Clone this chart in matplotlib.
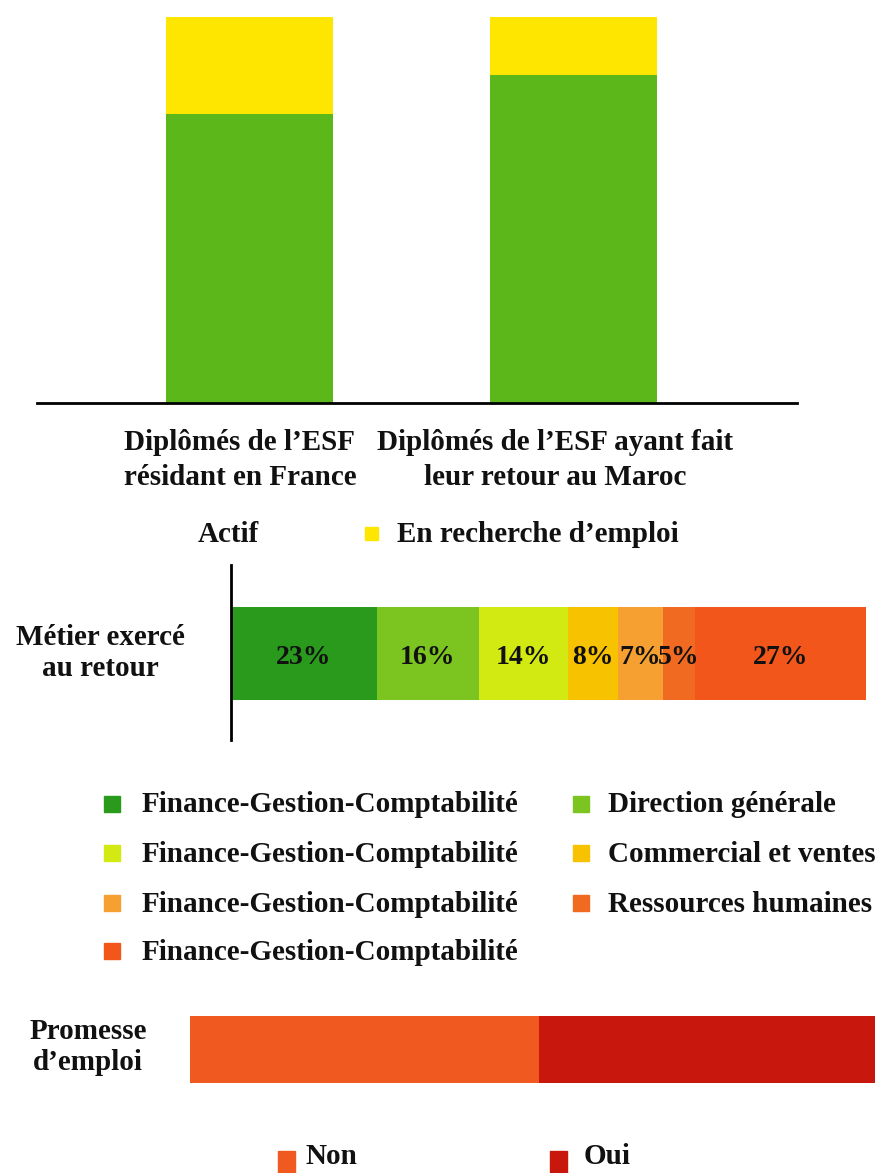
import matplotlib
matplotlib.use("Agg")
import matplotlib.pyplot as plt
from matplotlib.patches import Rectangle

plt.rcParams['font.family'] = ['Liberation Serif', 'DejaVu Serif']
plt.rcParams['font.weight'] = 'bold'

# ---- data ----
groups = ["Diplômés de l’ESF\nrésidant en France",
          "Diplômés de l’ESF ayant fait\nleur retour au Maroc"]
actif = [75, 85]
recherche = [25, 15]
status_labels = ["Actif", "En recherche d’emploi"]

metier_values = [23, 16, 14, 8, 7, 5, 27]
metier_labels = ["Finance-Gestion-Comptabilité", "Direction générale",
                 "Finance-Gestion-Comptabilité", "Commercial et ventes",
                 "Finance-Gestion-Comptabilité", "Ressources humaines",
                 "Finance-Gestion-Comptabilité"]
metier_pct_text = ["23%", "16%", "14%", "8%", "7%", "5%", "27%"]
metier_row_label = "Métier exercé\nau retour"

promesse_values = [51, 49]
promesse_labels = ["Non", "Oui"]
promesse_row_label = "Promesse\nd’emploi"

# ---- styles ----
W, H = 875, 1173
c_actif = "#5cb81a"
c_rech = "#ffe600"
metier_colors = ["#2a9a1c", "#7cc520", "#d2ea12", "#f7c200",
                 "#f5a030", "#f06a22", "#f2561a"]
promesse_colors = ["#f05a20", "#c8180e"]
FS = 21

fig = plt.figure(figsize=(W / 100, H / 100), dpi=100)
fig.patch.set_facecolor("white")


def px_axes(x0, y0, x1, y1):
    return fig.add_axes([x0 / W, 1 - y1 / H, (x1 - x0) / W, (y1 - y0) / H])


# overlay for text in pixel coords
ov = fig.add_axes([0, 0, 1, 1], zorder=5)
ov.set_xlim(0, W)
ov.set_ylim(H, 0)
ov.axis("off")
ov.patch.set_alpha(0)

# ---- top stacked columns ----
ax1 = px_axes(37, 17, 797, 403)
xs = [0, 1]
ax1.bar(xs, actif, width=0.516, color=c_actif, zorder=2)
ax1.bar(xs, recherche, bottom=actif, width=0.516, color=c_rech, zorder=2)
ax1.set_xlim(-0.657, 1.692)
ax1.set_ylim(0, 100)
for s in ["top", "right", "left"]:
    ax1.spines[s].set_visible(False)
ax1.spines["bottom"].set_linewidth(2)
ax1.set_xticks([])
ax1.set_yticks([])

group_x = [240, 555]
for gx, g in zip(group_x, groups):
    ov.text(gx, 460, g, ha="center", va="center", fontsize=FS,
            linespacing=1.35, color="#111111")

ov.text(228, 534, status_labels[0], ha="center", va="center", fontsize=FS, color="#111111")
ov.add_patch(Rectangle((365, 527), 13, 13, color=c_rech))
ov.text(397, 534, status_labels[1], ha="left", va="center", fontsize=FS, color="#111111")

# ---- Metier bar ----
ax2 = px_axes(231, 565, 866, 740)
left = 0
for v, c, t in zip(metier_values, metier_colors, metier_pct_text):
    ax2.barh(0.494, v, left=left, height=0.531, color=c)
    ax2.text(left + v / 2, 0.47, t, ha="center", va="center", fontsize=FS - 1, color="#111111")
    left += v
ax2.set_xlim(0, sum(metier_values))
ax2.set_ylim(0, 1)
for s in ["top", "right", "bottom"]:
    ax2.spines[s].set_visible(False)
ax2.spines["left"].set_linewidth(2)
ax2.set_xticks([])
ax2.set_yticks([])
ov.text(100, 653, metier_row_label, ha="center", va="center", fontsize=FS,
        linespacing=1.2, color="#111111")

# legend (row-major, 2 columns)
col_sq = [104, 573]
col_tx = [142, 608]
row_y = [805, 854, 904, 952]
for i, (lab, c) in enumerate(zip(metier_labels, metier_colors)):
    r, col = divmod(i, 2)
    ov.add_patch(Rectangle((col_sq[col], row_y[r] - 9), 16, 16, color=c))
    ov.text(col_tx[col], row_y[r], lab, ha="left", va="center", fontsize=FS, color="#111111")

# ---- Promesse bar ----
ax3 = px_axes(190, 1016, 875, 1083)
left = 0
for v, c in zip(promesse_values, promesse_colors):
    ax3.barh(0, v, left=left, height=1.0, color=c)
    left += v
ax3.set_xlim(0, sum(promesse_values))
ax3.set_ylim(-0.5, 0.5)
ax3.axis("off")
ov.text(88, 1047, promesse_row_label, ha="center", va="center", fontsize=FS,
        linespacing=1.22, color="#111111")

leg_sq = [278, 550]
leg_tx = [305, 584]
for sx, tx, lab, c in zip(leg_sq, leg_tx, promesse_labels, promesse_colors):
    ov.add_patch(Rectangle((sx, 1151), 17, 22, color=c))
    ov.text(tx, 1157, lab, ha="left", va="center", fontsize=FS, color="#111111")

fig.savefig("out.png", dpi=100, facecolor="white")
